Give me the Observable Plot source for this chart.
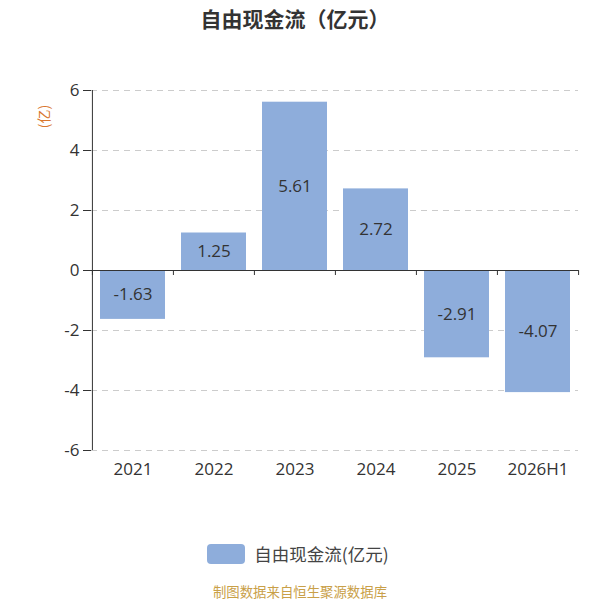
<!DOCTYPE html>
<html>
<head>
<meta charset="utf-8">
<script src="https://cdn.jsdelivr.net/npm/d3@7"></script>
<script src="https://cdn.jsdelivr.net/npm/@observablehq/plot@0.6"></script>
<style>
  body { margin: 0; background: #fff; font-family: "Open Sans", "Noto Sans CJK SC", sans-serif; }
  #wrap { position: relative; width: 600px; height: 600px; }
  #title { height: 40px; line-height: 36px; text-align: center; font-family: "Noto Sans CJK SC", sans-serif; font-size: 21px; font-weight: bold; color: #333; margin-left: -10px; }
  #legend { position: absolute; top: 541px; left: 0; width: 600px; display: flex; justify-content: center; align-items: center; font-family: "Noto Sans CJK SC", sans-serif; font-size: 17.5px; color: #444; }
  #legend .sw { width: 38px; height: 20px; border-radius: 4px; background: #8eaddb; margin-right: 9px; margin-left: -4px; }
  #source { position: absolute; top: 581px; left: 0; width: 600px; text-align: center; font-family: "Noto Sans CJK SC", sans-serif; font-size: 13.4px; color: #c9a048; }
</style>
</head>
<body>
<div id="wrap">
  <div id="title">自由现金流（亿元）</div>
  <div id="chart"></div>
  <div id="legend"><div class="sw"></div><span>自由现金流(亿元)</span></div>
  <div id="source">制图数据来自恒生聚源数据库</div>
</div>
<script>
const categories = ["2021", "2022", "2023", "2024", "2025", "2026H1"];
const values = [-1.63, 1.25, 5.61, 2.72, -2.91, -4.07];
const yTicks = [-6, -4, -2, 0, 2, 4, 6];

const data = categories.map((c, i) => ({c, v: values[i]}));

const W = 600, ML = 91, MR = 22;
const step = (W - ML - MR) / categories.length;
const barColor = "#8eaddb";
const numFont = '"Open Sans", "Noto Sans CJK SC", sans-serif';

const chart = Plot.plot({
  width: W,
  height: 460,
  marginLeft: ML,
  marginRight: MR,
  marginTop: 50,
  marginBottom: 50,
  style: {fontFamily: numFont, fontSize: "17px", color: "#333", background: "#fff"},
  x: {domain: categories, paddingInner: 0.2, paddingOuter: 0.1, label: null},
  y: {domain: [-6, 6], label: null},
  marks: [
    Plot.gridY(yTicks, {stroke: "#ccc", strokeOpacity: 1, strokeDasharray: "6,5"}),
    Plot.barY(data, {x: "c", y: "v", fill: barColor}),
    Plot.ruleY([0], {stroke: "#333", strokeWidth: 1}),
    Plot.ruleX(categories, {x: d => d, dx: -step / 2, y1: 0, y2: -5 / 30, stroke: "#333"}),
    Plot.ruleX([categories[categories.length - 1]], {x: d => d, dx: step / 2, y1: 0, y2: -5 / 30, stroke: "#333"}),
    Plot.ruleX([categories[0]], {x: d => d, dx: -step / 2, y1: -6, y2: 6, stroke: "#333"}),
    Plot.axisY(yTicks, {tickSize: 8, tickPadding: 4, fontSize: 17, fill: "#333", stroke: "#333", label: null, tickFormat: d => String(d)}),
    Plot.axisX({tickSize: 0, tickPadding: 12, fontSize: 17, fill: "#333", label: null}),
    Plot.text(data, {x: "c", y: d => d.v / 2, text: d => d.v.toFixed(2), fontSize: 17, fill: "#333"}),
    Plot.text(["(亿)"], {frameAnchor: "top-left", textAnchor: "middle", lineAnchor: "middle", text: d => d, rotate: -90, dx: -47, dy: 26, fontSize: 14, fontFamily: '"Noto Sans CJK SC", sans-serif', fill: "#d9772e"})
  ]
});
document.getElementById("chart").appendChild(chart);
</script>
</body>
</html>
